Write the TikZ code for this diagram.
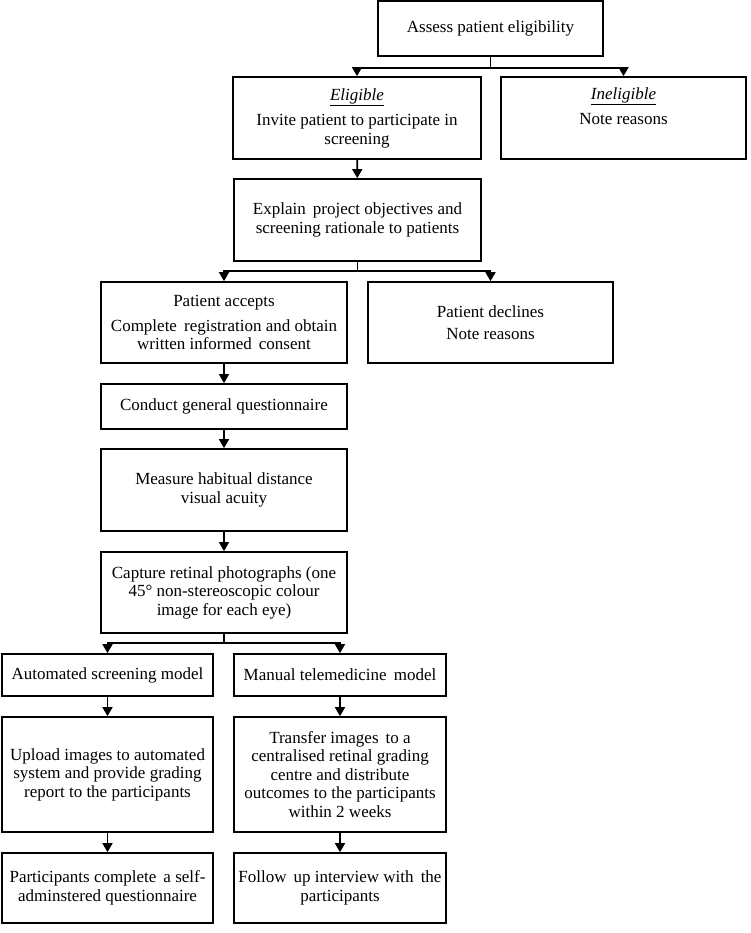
\documentclass[tikz,border=0pt]{standalone}
\usepackage{fontspec}
\setmainfont{Liberation Serif}
\usetikzlibrary{arrows.meta}

\begin{document}
\begin{tikzpicture}[x=1pt,y=-1pt,
  box/.style={draw=drawColor,line width=1.7pt,align=center,inner sep=0pt,
    font=\fontsize{17pt}{18.5pt}\selectfont},
  arr/.style={draw=drawColor,line width=1.6pt,-{Triangle[width=10pt,length=9pt]}},
  lnk/.style={draw=drawColor,line width=1.6pt}]
\definecolor{drawColor}{RGB}{0,0,0}
\definecolor{fillColor}{RGB}{255,255,255}
\path[use as bounding box,fill=fillColor] (0,0) rectangle (750,933);

% top part
\node[box,minimum width=225pt,minimum height=55pt] (assess) at (490.5, 28.5) {Assess patient eligibility};
\node[box,minimum width=248pt,minimum height=82pt] (elig) at (357.0,118.0) {\underline{\textit{Eligible}}\\[7pt] Invite patient to participate in\\ screening};
\node[box,minimum width=245pt,minimum height=82pt] (inelig) at (623.5,118.0) {\underline{\textit{Ineligible}}\\[7pt] Note reasons\\ \strut};
\node[box,minimum width=247pt,minimum height=82pt] (explain) at (357.5,220.0) {Explain\, project objectives and\\ screening rationale to patients};
\node[box,minimum width=246pt,minimum height=81pt] (accept) at (224.0,322.5) {Patient accepts\\[6pt] Complete\, registration and obtain\\ written informed\, consent};
\node[box,minimum width=245pt,minimum height=81pt] (decline) at (490.5,322.5) {Patient declines\\[4pt] Note reasons};

% middle column
\node[box,minimum width=246pt,minimum height=45pt] (conduct) at (224.0,406.5) {Conduct general questionnaire};
\node[box,minimum width=246pt,minimum height=82pt] (measure) at (224.0,490.0) {Measure habitual distance\\ visual acuity};
\node[box,minimum width=246pt,minimum height=81pt] (capture) at (224.0,592.5) {Capture retinal photographs (one\\ 45° non-stereoscopic colour\\ image for each eye)};

% two models
\node[box,minimum width=211pt,minimum height=42pt] (auto) at (107.5,675.0) {Automated screening model};
\node[box,minimum width=212pt,minimum height=42pt] (manual) at (340.0,675.0) {Manual telemedicine\, model};
\node[box,minimum width=211pt,minimum height=115pt] (upload) at (107.5,774.5) {Upload images to automated\\ system and provide grading\\ report to the participants};
\node[box,minimum width=212pt,minimum height=115pt] (transfer) at (340.0,774.5) {Transfer images\, to a\\ centralised retinal grading\\ centre and distribute\\ outcomes to the participants\\ within 2 weeks};
\node[box,minimum width=211pt,minimum height=70pt] (selfq) at (107.5,888.0) {Participants complete\, a self-\\ adminstered questionnaire};
\node[box,minimum width=212pt,minimum height=70pt] (follow) at (340.0,888.0) {Follow\, up interview with\, the\\ participants};

% connectors
\coordinate (j1) at (assess.south |- 0,68);
\draw[lnk] (assess.south) -- (j1);
\draw[arr] (j1) -| (elig);
\draw[arr] (j1) -| (inelig);
\draw[arr] (elig) -- (explain);
\coordinate (j2) at (explain.south |- 0,271);
\draw[lnk] (explain.south) -- (j2);
\draw[arr] (j2) -| (accept);
\draw[arr] (j2) -| (decline);
\draw[arr] (accept) -- (conduct);
\draw[arr] (conduct) -- (measure);
\draw[arr] (measure) -- (capture);
\coordinate (j3) at (capture.south |- 0,643);
\draw[lnk] (capture.south) -- (j3);
\draw[arr] (j3) -| (auto);
\draw[arr] (j3) -| (manual);
\draw[arr] (auto) -- (upload);
\draw[arr] (manual) -- (transfer);
\draw[arr] (upload) -- (selfq);
\draw[arr] (transfer) -- (follow);
\end{tikzpicture}
\end{document}
